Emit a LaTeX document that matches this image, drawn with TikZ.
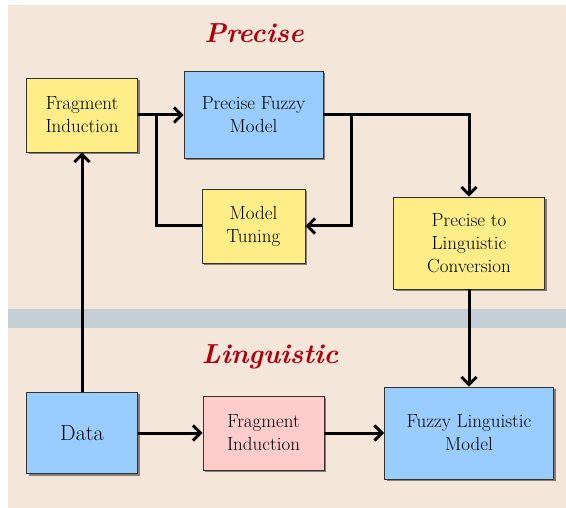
\documentclass[tikz,border=0pt]{standalone}
\usepackage{fontspec}
\usetikzlibrary{arrows.meta,shadows,calc}
\definecolor{bgbeige}{HTML}{F5E6DA}
\definecolor{bandgray}{HTML}{C5D0D6}
\definecolor{boxyellow}{HTML}{FFEE88}
\definecolor{boxblue}{HTML}{99CCFF}
\definecolor{boxpink}{HTML}{FFCCCC}
\definecolor{titlered}{HTML}{B00010}
\definecolor{boxedge}{HTML}{333333}
\begin{document}
\begin{tikzpicture}[x=1pt,y=-1pt,
  blockbox/.style={draw=boxedge,line width=0.9pt,minimum width=#1,inner sep=0pt,align=center,
    font=\fontsize{19}{23}\selectfont,
    drop shadow={shadow xshift=2pt,shadow yshift=-2pt,fill=black,opacity=0.45}},
  yel/.style={fill=boxyellow},
  blu/.style={fill=boxblue},
  pnk/.style={fill=boxpink},
  conn/.style={line width=3pt,draw=black},
  arr/.style={conn,-{Straight Barb[length=7.5pt,width=15pt,line width=3pt]}},
  titletext/.style={font=\fontsize{27.5}{30}\selectfont\bfseries\itshape,text=titlered}
]
\useasboundingbox (0,0) rectangle (566,508);
\fill[bgbeige] (8,5) rectangle (566,508);
\fill[bandgray] (8,309) rectangle (566,328);

\node[titletext] (tprec) at (254,33) {Precise};
\node[titletext] (tling) at (270,357) {Linguistic};

\node[blockbox=111pt,yel,minimum height=74pt] (fi1) at (82,115) {Fragment\\Induction};
\node[blockbox=139pt,blu,minimum height=87pt] (pfm) at (253.5,115) {Precise Fuzzy\\Model};
\node[blockbox=103pt,yel,minimum height=74pt] (mt) at (253.5,226) {Model\\Tuning};
\node[blockbox=151pt,yel,minimum height=92pt] (conv) at (469,243) {Precise to\\Linguistic\\Conversion};
\node[blockbox=111pt,blu,minimum height=81pt,font=\fontsize{22}{26}\selectfont] (data) at (82,433) {Data};
\node[blockbox=121pt,pnk,minimum height=74pt] (fi2) at (263.5,433) {Fragment\\Induction};
\node[blockbox=169pt,blu,minimum height=92pt] (flm) at (469,433) {Fuzzy Linguistic\\Model};

\coordinate (b1) at (156,115);
\coordinate (b2) at (351,115);

\draw[arr] (fi1.east) -- (pfm.west);
\draw[conn] (mt.west) -| (b1);
\draw[arr] (pfm.east) -| (conv.north);
\draw[arr] (b2) |- (mt.east);
\draw[arr] (conv.south) -- (flm.north);
\draw[arr] (data.north) -- (fi1.south);
\draw[arr] (data.east) -- (fi2.west);
\draw[arr] (fi2.east) -- (flm.west);
\end{tikzpicture}
\end{document}
